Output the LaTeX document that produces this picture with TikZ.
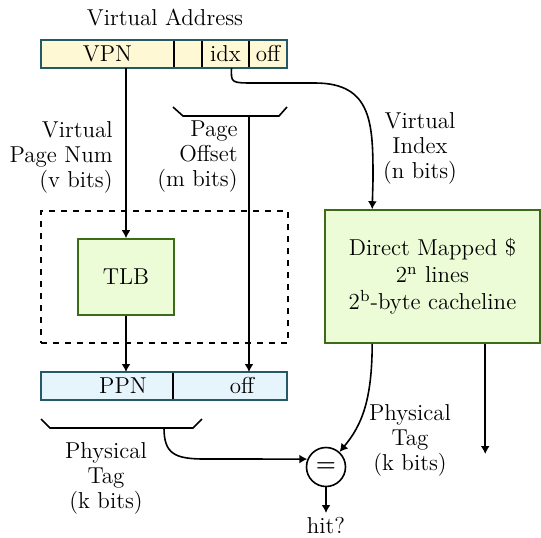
\documentclass[tikz,border=0pt]{standalone}
\usetikzlibrary{arrows.meta}

\definecolor{vafill}{HTML}{FFF8D4}
\definecolor{pafill}{HTML}{E6F4FC}
\definecolor{barline}{HTML}{245A68}
\definecolor{hwfill}{HTML}{EBFCD6}
\definecolor{hwline}{HTML}{3D6B18}

\tikzset{
  field/.style={draw=black,line width=0.8pt,minimum height=14pt,inner sep=0pt,outer sep=0pt,anchor=west},
  barframe/.style={draw=barline,line width=0.9pt},
  hwbox/.style={draw=hwline,fill=hwfill,line width=0.8pt,inner sep=0pt,align=center},
  lbl/.style={inner sep=0pt},
  arr/.style={line width=0.8pt,-{Latex[length=4pt,width=4.5pt]}}
}

\begin{document}
\begin{tikzpicture}[x=0.5pt,y=-0.5pt,every node/.style={font=\fontsize{11.5}{12.5}\selectfont}]
  \useasboundingbox (0,0) rectangle (541,537);

  \node[lbl] (vaddr) at (165,18) {Virtual Address};
  \node[field,fill=vafill,minimum width=66.5pt] (vpn) at (41,54) {VPN};
  \node[field,fill=vafill,minimum width=14pt] (vgap) at (vpn.east) {};
  \node[field,fill=vafill,minimum width=23.5pt] (idx) at (vgap.east) {idx};
  \node[field,fill=vafill,minimum width=19pt] (voff) at (idx.east) {off};
  \draw[barframe] (vpn.north west) rectangle (voff.south east);

  \node[draw,dashed,line width=0.8pt,minimum width=123.5pt,minimum height=66pt] (tlbzone) at (164.5,277) {};
  \node[hwbox,minimum width=48pt,minimum height=38pt] (tlb) at (126,277) {TLB};
  \node[hwbox,minimum width=107.5pt,minimum height=66.5pt] (cache) at (432.5,276.5)
    {Direct Mapped \$\\[1pt]2\textsuperscript{n} lines\\[1pt]2\textsuperscript{b}-byte cacheline};

  \node[field,fill=pafill,minimum width=66pt] (ppn) at (41,386) {\hspace*{16pt}PPN};
  \node[field,fill=pafill,minimum width=57pt] (poff) at (ppn.east) {\hspace*{12pt}off};
  \draw[barframe] (ppn.north west) rectangle (poff.south east);

  \node[draw,circle,line width=0.8pt,minimum size=19.5pt,inner sep=0pt] (eq) at (326,467) {\textbf{=}};
  \node[lbl,anchor=north,inner sep=2pt] (hit) at (326,513) {hit?};

  \node[lbl,align=right,anchor=east] (vpnlbl) at (113,157) {Virtual\\Page Num\\(v bits)};
  \node[lbl,align=right,anchor=east] (offlbl) at (238,157) {Page\\Offset\\(m bits)};
  \node[lbl,align=center] (vidxlbl) at (420,148) {Virtual\\Index\\(n bits)};
  \node[lbl,align=center] (ptaglbl) at (106,478) {Physical\\Tag\\(k bits)};
  \node[lbl,align=center] (ctaglbl) at (410,440) {Physical\\Tag\\(k bits)};

  % brackets
  \draw[line width=0.8pt] (173,107) -- (183,116) -- (279,116) -- (287,107);
  \draw[line width=0.8pt] (41,419) -- (50,428) -- (193,428) -- (202,419);
  \coordinate (offstem) at (voff.west |- 0,116);
  \coordinate (idxstem) at ([xshift=3pt]idx.south);
  \coordinate (tagstem) at (164,428);
  \coordinate (tagbend) at (205,459);
  \coordinate (vidx) at ([xshift=24pt]cache.north west);
  \coordinate (ctag) at ([xshift=24pt]cache.south west);
  \coordinate (cdata) at ([xshift=80.5pt]cache.south west);
  \coordinate (dataout) at (cdata |- 0,454);

  \draw[arr] (vpn.south -| tlb.north) -- (tlb.north);
  \draw[arr] (tlb.south) -- (tlb.south |- ppn.north);
  \draw[arr] (offstem) -- (offstem |- poff.north);
  \draw[arr] (idxstem) .. controls (231,83) .. (255,83) -- (315,83)
    .. controls (373,83) and (373,125) .. (373,180) -- (vidx);
  \draw[arr] (tagstem) .. controls (164,454) and (175,459) .. (tagbend) -- (eq.157);
  \draw[arr] (ctag) .. controls (372,400) and (362,425) .. (eq.48);
  \draw[arr] (cdata) -- (dataout);
  \draw[arr] (eq.south) -- (hit.north);
\end{tikzpicture}
\end{document}
